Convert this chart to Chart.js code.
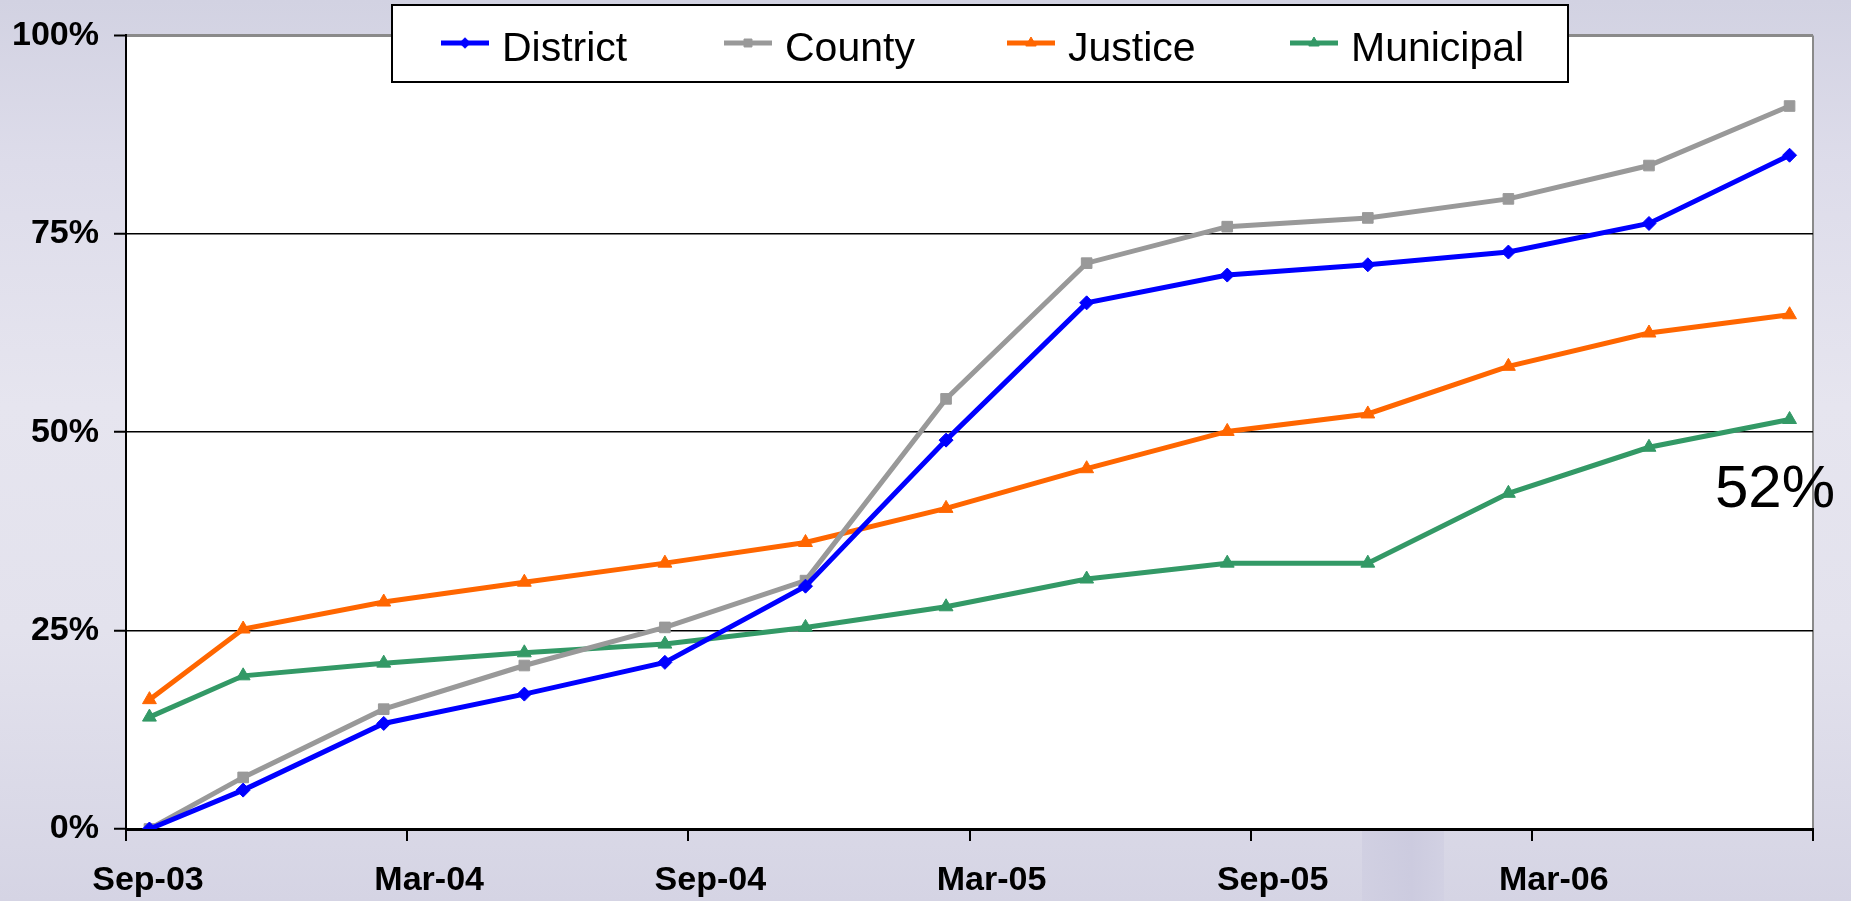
<!DOCTYPE html>
<html>
<head>
<meta charset="utf-8">
<title>Completion by court type</title>
<script src="https://cdn.jsdelivr.net/npm/chart.js@4.4.1/dist/chart.umd.min.js"></script>
<style>
  html, body {
    margin: 0;
    padding: 0;
    width: 1851px;
    height: 901px;
    overflow: hidden;
    background: linear-gradient(180deg, #d2d2e2 0%, #dddcea 18%, #e6e5ef 45%, #e3e2ed 70%, #d5d4e4 100%);
  }
  #wrap { position: relative; width: 1851px; height: 901px; }
  #band {
    position: absolute;
    left: 1362px;
    top: 829px;
    width: 82px;
    height: 72px;
    background: linear-gradient(90deg, #d1d0e2, #cccbdf 60%, #d2d1e3);
  }
  #chart { position: relative; }
</style>
</head>
<body>
<div id="wrap"><div id="band"></div><canvas id="chart"></canvas></div>
<script>
// data points (month of each survey)
const pointDates = ['Sep-03', 'Nov-03', 'Feb-04', 'May-04', 'Aug-04', 'Nov-04', 'Feb-05',
                    'May-05', 'Aug-05', 'Nov-05', 'Feb-06', 'May-06', 'Aug-06'];

const district  = [0, 4.9, 13.3, 17.0, 21.0, 30.6, 49.0, 66.3, 69.8, 71.1, 72.7, 76.3, 84.9];
const county    = [0, 6.5, 15.1, 20.6, 25.4, 31.3, 54.2, 71.3, 75.9, 77.0, 79.4, 83.6, 91.1];
const justice   = [16.3, 25.2, 28.6, 31.1, 33.5, 36.1, 40.4, 45.4, 50.1, 52.3, 58.3, 62.5, 64.8];
const municipal = [14.1, 19.3, 20.9, 22.2, 23.3, 25.4, 28.0, 31.5, 33.5, 33.5, 42.3, 48.1, 51.6];

const xTickLabels = ['Sep-03', 'Mar-04', 'Sep-04', 'Mar-05', 'Sep-05', 'Mar-06', ''];
const yTickLabels = ['0%', '25%', '50%', '75%', '100%'];
const calloutText = '52%';

const MONTHS = ['Jan', 'Feb', 'Mar', 'Apr', 'May', 'Jun', 'Jul', 'Aug', 'Sep', 'Oct', 'Nov', 'Dec'];

// months since start of Sep-03, plotted at the middle of the month
function monthPos(label) {
  const [m, y] = label.split('-');
  return (Number(y) - 3) * 12 + MONTHS.indexOf(m) - 8 + 0.5;
}

function toPoints(values) {
  return values.map((v, i) => ({ x: monthPos(pointDates[i]), y: v }));
}

const FONT = 'Liberation Sans, Arial, Helvetica, sans-serif';

const series = [
  { label: 'District',  data: district,  color: '#0000ff', style: 'rectRot',  radius: 7 },
  { label: 'County',    data: county,    color: '#999999', style: 'rect',     radius: 7.5 },
  { label: 'Justice',   data: justice,   color: '#ff6600', style: 'triangle', radius: 8 },
  { label: 'Municipal', data: municipal, color: '#339966', style: 'triangle', radius: 8 }
];

// white plot area
const plotBackground = {
  id: 'plotBackground',
  beforeDraw(chart) {
    const { ctx, chartArea } = chart;
    ctx.save();
    ctx.fillStyle = '#ffffff';
    ctx.fillRect(chartArea.left, chartArea.top, chartArea.right - chartArea.left, chartArea.bottom - chartArea.top);
    ctx.restore();
  }
};

// boxed legend laid over the top of the plot, plus the 52% callout
const boxLegend = {
  id: 'boxLegend',
  afterDraw(chart) {
    const { ctx, chartArea } = chart;
    ctx.save();

    const bx = 392, by = 5, bw = 1176, bh = 77;
    ctx.fillStyle = '#ffffff';
    ctx.fillRect(bx, by, bw, bh);
    ctx.strokeStyle = '#000000';
    ctx.lineWidth = 2;
    ctx.strokeRect(bx, by, bw, bh);

    chart.data.datasets.forEach((ds, i) => {
      const lx = 441 + i * 283;
      const ly = 43;
      ctx.strokeStyle = ds.borderColor;
      ctx.fillStyle = ds.borderColor;
      ctx.lineWidth = 5;
      ctx.beginPath();
      ctx.moveTo(lx, ly);
      ctx.lineTo(lx + 48, ly);
      ctx.stroke();
      ctx.lineWidth = 1;
      Chart.helpers.drawPoint(ctx, {
        pointStyle: ds.pointStyle,
        radius: ds.pointRadius * 0.75,
        rotation: 0,
        borderWidth: 1
      }, lx + 24, ly);

      ctx.fillStyle = '#000000';
      ctx.font = '41px ' + FONT;
      ctx.textBaseline = 'alphabetic';
      ctx.textAlign = 'left';
      ctx.fillText(ds.label, lx + 61, 61);
    });

    ctx.fillStyle = '#000000';
    ctx.font = '60px ' + FONT;
    ctx.textAlign = 'left';
    ctx.textBaseline = 'alphabetic';
    ctx.fillText(calloutText, chartArea.right - 98, 507);
    ctx.restore();
  }
};

const ctx = document.getElementById('chart');

new Chart(ctx, {
  type: 'line',
  data: {
    datasets: series.map(s => ({
      label: s.label,
      data: toPoints(s.data),
      borderColor: s.color,
      backgroundColor: s.color,
      borderWidth: 5,
      pointStyle: s.style,
      pointRadius: s.radius,
      pointBorderWidth: 1,
      pointHoverRadius: s.radius,
      tension: 0,
      fill: false
    }))
  },
  options: {
    responsive: true,
    maintainAspectRatio: false,
    animation: false,
    layout: { padding: { top: 32, right: 38, left: 0, bottom: 0 } },
    plugins: {
      legend: { display: false },
      tooltip: { enabled: false }
    },
    scales: {
      x: {
        type: 'linear',
        min: 0,
        max: 36,
        afterFit(scale) { scale.height = 72; },
        afterBuildTicks(scale) {
          scale.ticks = xTickLabels.map((_, i) => ({ value: i * 6 }));
        },
        ticks: {
          autoSkip: false,
          maxRotation: 0,
          padding: 19,
          labelOffset: 22,
          color: '#000000',
          font: { family: FONT, size: 34, weight: 'bold' },
          callback: (value) => xTickLabels[Math.round(value / 6)]
        },
        grid: {
          drawOnChartArea: true,
          drawTicks: true,
          tickLength: 12,
          tickColor: '#000000',
          tickWidth: 2,
          lineWidth: 2,
          color: (c) => (c.tick && c.tick.value === 36 ? '#8a8a8a' : 'rgba(0,0,0,0)')
        },
        border: { display: true, color: '#000000', width: 3 }
      },
      y: {
        min: 0,
        max: 100,
        afterFit(scale) { scale.width = 126; },
        ticks: {
          stepSize: 25,
          padding: 15,
          color: '#000000',
          font: { family: FONT, size: 34, weight: 'bold' },
          callback: (value) => yTickLabels[Math.round(value / 25)]
        },
        grid: {
          drawTicks: true,
          tickLength: 12,
          tickColor: '#000000',
          tickWidth: 2,
          lineWidth: (c) => (c.tick && c.tick.value === 100 ? 3 : 1.5),
          color: (c) => (c.tick && c.tick.value === 100 ? '#8a8a8a' : '#000000')
        },
        border: { display: true, color: '#000000', width: 2 }
      }
    }
  },
  plugins: [plotBackground, boxLegend]
});
</script>
</body>
</html>
